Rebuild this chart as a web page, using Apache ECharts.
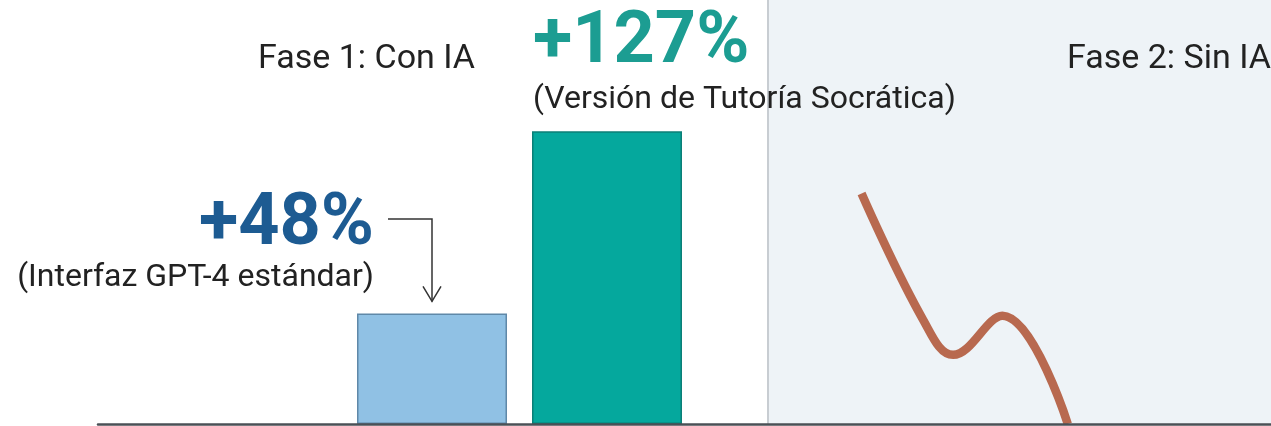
<!DOCTYPE html>
<html>
<head>
<meta charset="utf-8">
<script src="https://cdn.jsdelivr.net/npm/echarts@6/dist/echarts.min.js"></script>
<style>
    html,body{margin:0;padding:0;background:#fff;}
    #chart{width:1271px;height:426px;}
</style>
</head>
<body>
<div id="chart"></div>
<script>
// fase 1: mejora con IA
const categories = ['Interfaz GPT-4 estándar', 'Versión de Tutoría Socrática'];
const gains = [48, 127];
const gainLabels = ['+48%', '+127%'];
const gainNotes = ['(Interfaz GPT-4 estándar)', '(Versión de Tutoría Socrática)'];
const phaseLabels = ['Fase 1: Con IA', 'Fase 2: Sin IA'];
// fase 2: caída sin IA
const dropX = [1.86, 3.09, 3.68, 4.66, 5.96];
const dropY = [100, 45, 30, 47, 0];

const font = 'Roboto';
const yMax = 184;

var myChart = echarts.init(document.getElementById('chart'));

let barData = gains.map((v, i) => {
    let left = i === 0;
    return {
        value: v,
        itemStyle: left
            ? { color: '#90c1e4', borderColor: '#5f88a8', borderWidth: 1.5 }
            : { color: '#05a89d', borderColor: '#0b7f77', borderWidth: 1.5 },
        label: {
            show: true,
            position: left ? [17, -15] : [1, -11],
            align: left ? 'right' : 'left',
            verticalAlign: 'bottom',
            formatter: '{v|' + gainLabels[i] + '}\n{s|' + gainNotes[i] + '}',
            rich: {
                v: {
                    fontFamily: font, fontWeight: 'bold',
                    fontSize: 72, lineHeight: left ? 62 : 70,
                    color: left ? '#1d5b92' : '#1c9d92',
                    align: left ? 'right' : 'left'
                },
                s: {
                    fontFamily: font, fontSize: 32, lineHeight: 41, color: '#222',
                    align: left ? 'right' : 'left'
                }
            }
        }
    };
});

myChart.setOption({
    animation: false,
    title: [
        { text: phaseLabels[0], left: 258, top: 42, padding: 0,
          textStyle: { fontFamily: font, fontWeight: 'normal', fontSize: 34, color: '#222' } },
        { text: phaseLabels[1], left: 1067, top: 42, padding: 0,
          textStyle: { fontFamily: font, fontWeight: 'normal', fontSize: 34, color: '#222' } }
    ],
    grid: [
        { left: 344.5, width: 350, top: 0, bottom: 2 },
        { left: 768, right: 0, top: 0, bottom: 2, show: true, backgroundColor: '#eef3f7', borderWidth: 0 },
        { left: 98, right: 0, top: 0, bottom: 2 }
    ],
    xAxis: [
        { gridIndex: 0, type: 'category', data: categories, show: false },
        { gridIndex: 1, type: 'value', min: 0, max: 10, show: false },
        { gridIndex: 2, type: 'value', min: 0, max: 1, z: 10,
          axisLine: { show: true, lineStyle: { color: '#4b5056', width: 2.5 } },
          axisTick: { show: false }, axisLabel: { show: false }, splitLine: { show: false } }
    ],
    yAxis: [
        { gridIndex: 0, type: 'value', min: 0, max: yMax, show: false },
        { gridIndex: 1, type: 'value', min: 0, max: yMax,
          axisLine: { show: true, lineStyle: { color: '#c8cdd2', width: 2 } },
          axisTick: { show: false }, axisLabel: { show: false }, splitLine: { show: false } },
        { gridIndex: 2, type: 'value', min: 0, max: 1, show: false }
    ],
    series: [
        {
            type: 'bar',
            xAxisIndex: 0, yAxisIndex: 0,
            barWidth: 150,
            data: barData
        },
        {
            type: 'line',
            xAxisIndex: 1, yAxisIndex: 1,
            smooth: 0.4,
            symbol: 'none',
            lineStyle: { color: '#b8694f', width: 8.5 },
            data: dropX.map((x, i) => [x, dropY[i]])
        }
    ]
});

// flecha hacia la barra de +48%
let tip = myChart.convertToPixel({ seriesIndex: 0 }, [0, gains[0]]);
let cx = tip[0], ty = tip[1] - 12;
myChart.setOption({
    graphic: [
        { type: 'polyline', z: 20, shape: { points: [[388, 219], [cx, 219], [cx, ty]] },
          style: { stroke: '#333', lineWidth: 1.5, fill: null } },
        { type: 'polyline', z: 20, shape: { points: [[cx - 9, ty - 15], [cx, ty], [cx + 9, ty - 15]] },
          style: { stroke: '#333', lineWidth: 1.5, fill: null } }
    ]
});
</script>
</body>
</html>
